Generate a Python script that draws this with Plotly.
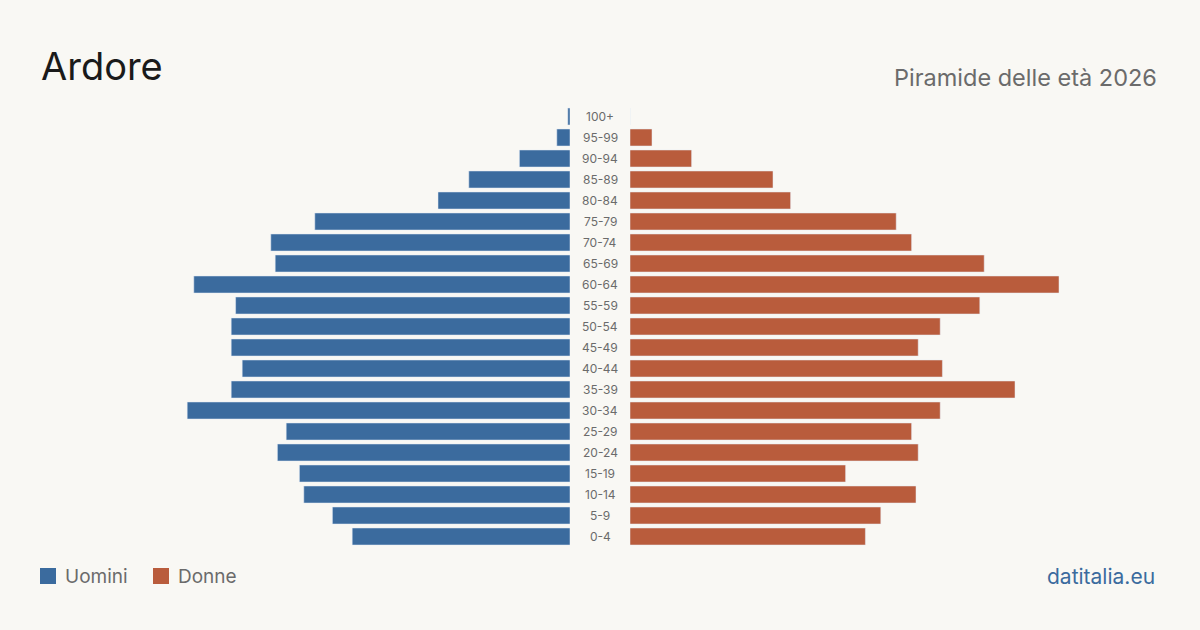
import plotly.graph_objects as go

ages = ["0-4", "5-9", "10-14", "15-19", "20-24", "25-29", "30-34", "35-39", "40-44",
        "45-49", "50-54", "55-59", "60-64", "65-69", "70-74", "75-79", "80-84",
        "85-89", "90-94", "95-99", "100+"]
men = [99, 108, 121, 123, 133, 129, 174, 154, 149, 154, 154, 152, 171, 134, 136,
       116, 60, 46, 23, 6, 1]
women = [107, 114, 130, 98, 131, 128, 141, 175, 142, 131, 141, 159, 195, 161, 128,
         121, 73, 65, 28, 10, 0]

BLUE = "#3b6b9e"
ORANGE = "#b95c3c"
BG = "#f9f8f4"
FONT = "Inter"

W, H = 1200, 630
PXU = 2.2  # pixels per person
left_zero, right_zero = 570, 630
left_start = 170
right_end = 1100
T, B = 106, 83
PLOT_BOTTOM = H - B
PLOT_H = H - T - B


def py(ypx):
    return (PLOT_BOTTOM - ypx) / PLOT_H


fig = go.Figure()
fig.add_trace(go.Bar(y=ages, x=men, orientation="h", marker_color=BLUE,
                     xaxis="x", yaxis="y", name="Uomini", showlegend=False,
                     hoverinfo="x+y"))
fig.add_trace(go.Bar(y=ages, x=women, orientation="h", marker_color=ORANGE,
                     xaxis="x2", yaxis="y", name="Donne", showlegend=False,
                     hoverinfo="x+y"))

annotations = []
for a in ages:
    annotations.append(dict(x=600 / W, xref="paper", y=a, yref="y", text=a,
                            showarrow=False, xanchor="center", yanchor="middle",
                            font=dict(family=FONT, size=12, color="#6b6b6b")))

annotations += [
    dict(x=39 / W, y=py(66), xref="paper", yref="paper", text="Ardore",
         showarrow=False, xanchor="left", yanchor="middle",
         font=dict(family=FONT, size=38, color="#1a1a1a")),
    dict(x=1159 / W, y=py(77), xref="paper", yref="paper",
         text="Piramide delle età 2026", showarrow=False, xanchor="right",
         yanchor="middle", font=dict(family=FONT, size=23.5, color="#6b6b6b")),
    dict(x=63 / W, y=py(576), xref="paper", yref="paper", text="Uomini",
         showarrow=False, xanchor="left", yanchor="middle",
         font=dict(family=FONT, size=19, color="#6b6b6b")),
    dict(x=176 / W, y=py(576), xref="paper", yref="paper", text="Donne",
         showarrow=False, xanchor="left", yanchor="middle",
         font=dict(family=FONT, size=19, color="#6b6b6b")),
    dict(x=1157 / W, y=py(576), xref="paper", yref="paper", text="datitalia.eu",
         showarrow=False, xanchor="right", yanchor="middle",
         font=dict(family=FONT, size=21, color=BLUE)),
]

shapes = [
    dict(type="rect", xref="paper", yref="paper", x0=40 / W, x1=56 / W,
         y0=py(584), y1=py(568), fillcolor=BLUE, line_width=0),
    dict(type="rect", xref="paper", yref="paper", x0=153 / W, x1=169 / W,
         y0=py(584), y1=py(568), fillcolor=ORANGE, line_width=0),
]

fig.update_layout(
    width=W, height=H,
    paper_bgcolor=BG, plot_bgcolor=BG,
    margin=dict(l=0, r=0, t=T, b=B),
    bargap=0.19,
    xaxis=dict(domain=[left_start / W, left_zero / W],
               range=[(left_zero - left_start) / PXU, 0],
               visible=False, fixedrange=True),
    xaxis2=dict(domain=[right_zero / W, right_end / W],
                range=[0, (right_end - right_zero) / PXU],
                visible=False, fixedrange=True),
    yaxis=dict(visible=False, categoryorder="array", categoryarray=ages,
               range=[-0.5, len(ages) - 0.5], fixedrange=True),
    annotations=annotations,
    shapes=shapes,
    showlegend=False,
)

fig.write_html("out.html")
